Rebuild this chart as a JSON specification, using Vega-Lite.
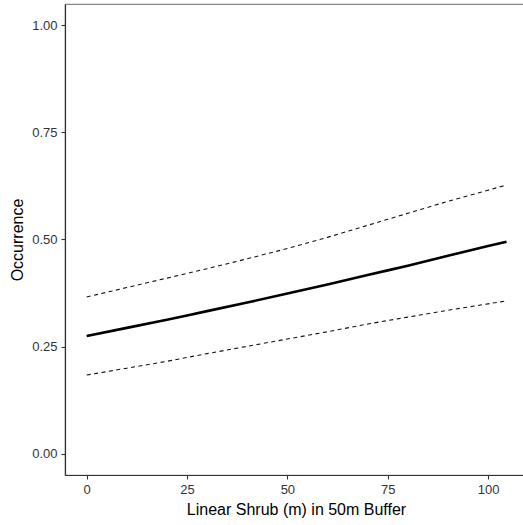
{
  "$schema": "https://vega.github.io/schema/vega-lite/v6.json",
  "width": 462,
  "height": 471,
  "autosize": "none",
  "padding": {"left": 65, "top": 4, "right": 0, "bottom": 50},
  "background": "white",
  "config": {
    "view": {"stroke": "#888888", "strokeWidth": 1.2},
    "font": "Liberation Sans",
    "axis": {
      "grid": false,
      "domainColor": "#333333",
      "domainWidth": 1.2,
      "tickColor": "#333333",
      "tickSize": 4,
      "tickWidth": 1.1,
      "labelFont": "Liberation Sans",
      "labelFontSize": 13,
      "labelColor": "#333333",
      "labelPadding": 4,
      "titleFont": "Liberation Sans",
      "titleFontSize": 16,
      "titleFontWeight": "normal",
      "titleColor": "#000000"
    }
  },
  "data": {
    "values": [
      {"x": 0, "fit": 0.275, "lower": 0.184, "upper": 0.366},
      {"x": 10, "fit": 0.294, "lower": 0.200, "upper": 0.388},
      {"x": 20, "fit": 0.313, "lower": 0.216, "upper": 0.410},
      {"x": 25, "fit": 0.323, "lower": 0.225, "upper": 0.421},
      {"x": 30, "fit": 0.333, "lower": 0.234, "upper": 0.432},
      {"x": 40, "fit": 0.353, "lower": 0.251, "upper": 0.455},
      {"x": 50, "fit": 0.374, "lower": 0.268, "upper": 0.479},
      {"x": 60, "fit": 0.395, "lower": 0.285, "upper": 0.505},
      {"x": 70, "fit": 0.417, "lower": 0.303, "upper": 0.533},
      {"x": 75, "fit": 0.428, "lower": 0.311, "upper": 0.547},
      {"x": 80, "fit": 0.439, "lower": 0.319, "upper": 0.561},
      {"x": 90, "fit": 0.462, "lower": 0.335, "upper": 0.589},
      {"x": 100, "fit": 0.485, "lower": 0.350, "upper": 0.615},
      {"x": 104.6, "fit": 0.495, "lower": 0.357, "upper": 0.627}
    ]
  },
  "encoding": {
    "x": {
      "field": "x",
      "type": "quantitative",
      "scale": {"domain": [-5.4, 109.7], "nice": false, "zero": false},
      "axis": {"values": [0, 25, 50, 75, 100], "title": "Linear Shrub (m) in 50m Buffer", "titlePadding": 5}
    }
  },
  "layer": [
    {
      "mark": {"type": "line", "color": "#111111", "strokeWidth": 1.1, "strokeDash": [4, 3.5]},
      "encoding": {
        "y": {
          "field": "upper",
          "type": "quantitative",
          "scale": {"domain": [-0.049, 1.049], "nice": false, "zero": false},
          "axis": {"values": [0, 0.25, 0.5, 0.75, 1.0], "format": ".2f", "title": "Occurrence", "titlePadding": 6}
        }
      }
    },
    {
      "mark": {"type": "line", "color": "#111111", "strokeWidth": 1.1, "strokeDash": [4, 3.5]},
      "encoding": {"y": {"field": "lower", "type": "quantitative"}}
    },
    {
      "mark": {"type": "line", "color": "#000000", "strokeWidth": 2.6},
      "encoding": {"y": {"field": "fit", "type": "quantitative"}}
    }
  ]
}
